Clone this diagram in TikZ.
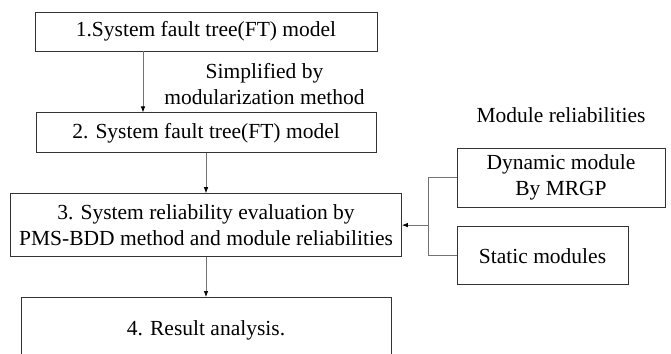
\documentclass[tikz,border=0pt]{standalone}
\usepackage{fontspec}
\setmainfont{Liberation Serif}
\usetikzlibrary{positioning,arrows.meta}

\begin{document}
\begin{tikzpicture}[x=1pt,y=-1pt,>={Latex[black,length=6pt,width=4.5pt]},
  every node/.style={font=\fontsize{21.5pt}{26pt}\selectfont},
  box/.style={draw=black!80,line width=0.8pt,inner sep=0pt,align=center},
  link/.style={draw=black!55,line width=0.7pt}]
\useasboundingbox (0,0) rectangle (671,353);
\node[box,minimum width=342pt,minimum height=39pt] (ft1) at (206,31.5) {1.System fault tree(FT) model};
\node[box,minimum width=340pt,minimum height=40pt] (ft2) [below=61pt of ft1] {2. System fault tree(FT) model};
\node[box,minimum width=391pt,minimum height=63pt] (eval) [below=40pt of ft2] {3. System reliability evaluation by\\PMS-BDD method and module reliabilities};
\node[box,minimum width=370pt,minimum height=66pt] (res) [below=40pt of eval] {4. Result analysis.};
\node[box,minimum width=208pt,minimum height=59pt] (dyn) at (561,177.5) {Dynamic module\\By MRGP};
\node (stat) [below=19pt of dyn.south west,anchor=north west,box,minimum width=171pt,minimum height=58pt] {Static modules};
\node (modrel) [above=21pt of dyn] {Module reliabilities};
\node[align=center] (simp) at (264.5,84) {Simplified by\\modularization method};
\coordinate (jn) at ([xshift=-28pt]dyn.west);
\draw [link,->] ([xshift=-63pt]ft1.south) -- ([xshift=-63pt]ft2.north);
\draw [link,->] (ft2) -- (eval);
\draw [link,->] (eval) -- (res);
\draw [link] (dyn.west) -- (jn) |- (stat.west);
\draw [link,->] (jn |- eval.east) -- (eval.east);
\end{tikzpicture}
\end{document}
